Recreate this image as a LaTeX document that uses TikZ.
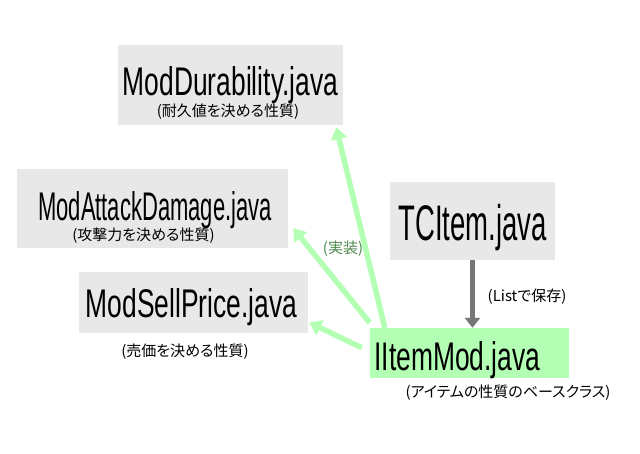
\documentclass[tikz,border=0pt]{standalone}
\usepackage{fontspec}
\setmainfont{Liberation Sans}
\newfontfamily\titlefont[FakeStretch=0.66]{Liberation Sans}
\newfontfamily\narrowtitlefont[FakeStretch=0.55]{Liberation Sans}
\newfontfamily\jpfont[RawFeature=+palt]{Noto Sans CJK JP}
\usetikzlibrary{
    positioning,
    arrows.meta,
}
\definecolor{boxgray}{HTML}{E8E8E8}
\definecolor{implgreen}{HTML}{B3FFB3}
\definecolor{listgray}{HTML}{777777}
\definecolor{notegreen}{HTML}{4F8A4F}
\tikzset{
    % Box styles
    class box/.style={rectangle, fill=boxgray, inner sep=0pt},
    base box/.style={rectangle, fill=implgreen, inner sep=0pt},
    % Text styles
    class name/.style={font=\titlefont\fontsize{40}{40}\selectfont, inner sep=0pt, anchor=base},
    narrow name/.style={class name, font=\narrowtitlefont\fontsize{40}{40}\selectfont},
    note/.style={font=\jpfont\fontsize{15}{15}\selectfont, inner sep=0pt},
    % Arrow styles
    impl arrow/.style={-{Triangle[length=12pt, width=16pt]}, line width=5.5pt, implgreen},
    list arrow/.style={-{Triangle[length=10pt, width=15pt]}, line width=5.5pt, listgray},
}

\begin{document}
\begin{tikzpicture}[x=1pt, y=-1pt]
    \fill[white] (0,0) rectangle (640,453);
    \useasboundingbox (0,0) rectangle (640,453);

    % ModDurability
    \node[class box, minimum width=225pt, minimum height=80pt] (moddur) at (230.5,85) {};
    \node[class name] (moddurname) at (230.5,95) {ModDurability.java};
    \node[note] (moddurnote) at (228,111.5) {(耐久値を決める性質)};

    % ModAttackDamage
    \node[class box, minimum width=271pt, minimum height=79pt] (modatk) at (152.5,208.5) {};
    \node[narrow name] (modatkname) at (155,220) {ModAttackDamage.java};
    \node[note] (modatknote) at (143.5,236) {(攻撃力を決める性質)};

    % ModSellPrice
    \node[class box, minimum width=229pt, minimum height=61pt] (modsell) at (193.5,302.5) {};
    \node[class name] (modsellname) at (191.5,317) {ModSellPrice.java};
    \node[note] (modsellnote) at (185,352) {(売価を決める性質)};

    % TCItem
    \node[class box, minimum width=165pt, minimum height=78pt] (tcitem) at (472.5,221) {};
    \node[narrow name, font=\narrowtitlefont\fontsize{50}{50}\selectfont] (tcitemname) at (472.5,240) {TCItem.java};

    % IItemMod
    \node[base box, minimum width=199pt, minimum height=50pt] (iitemmod) at (469.5,353) {};
    \node[class name] (iitemmodname) at (457.5,370) {IItemMod.java};
    \node[note] (iitemmodnote) at (508,393) {(アイテムの性質のベースクラス)};

    % arrows
    \draw[list arrow] (tcitem.south) -- (tcitem.south |- iitemmod.north);
    \node[note] (listnote) at (527,297) {(Listで保存)};

    \draw[impl arrow] ([xshift=15pt]iitemmod.north west) -- ([xshift=-7pt, yshift=-2pt]moddur.south east);
    \draw[impl arrow] ([yshift=5pt]iitemmod.north west) -- ([xshift=5pt, yshift=20pt]modatk.south east);
    \draw[impl arrow] ([xshift=-8pt, yshift=-20pt]iitemmod.north west) -- ([xshift=1pt, yshift=-20pt]modsell.east);
    \node[note, text=notegreen] (implnote) at (343,249) {(実装)};
\end{tikzpicture}
\end{document}
